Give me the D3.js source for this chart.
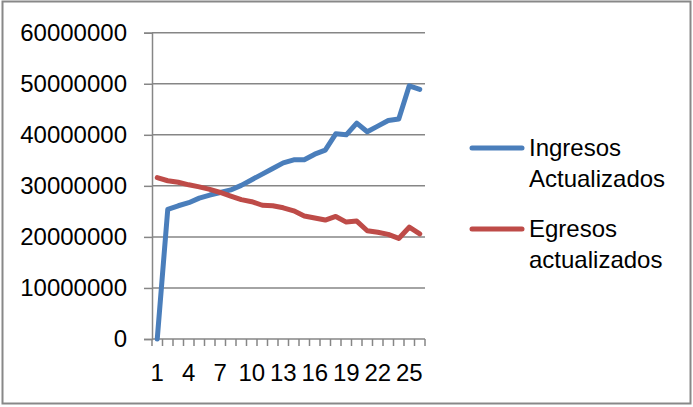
<!DOCTYPE html>
<html>
<head>
<meta charset="utf-8">
<script src="https://cdn.jsdelivr.net/npm/d3@7"></script>
<style>
  html, body { margin: 0; padding: 0; background: #fff; }
  svg { display: block; }
  text { font-family: "Liberation Sans", Arial, sans-serif; fill: #000; }
</style>
</head>
<body>
<svg id="chart" width="693" height="407"></svg>
<script>
// Periods 1..26
const periods = d3.range(1, 27);
const xTickLabels = [1, 4, 7, 10, 13, 16, 19, 22, 25];
const yTicks = [0, 10000000, 20000000, 30000000, 40000000, 50000000, 60000000];

const ingresos = [0, 25400000, 26100000, 26700000, 27600000, 28200000, 28700000, 29200000,
  30100000, 31200000, 32300000, 33400000, 34500000, 35100000, 35100000, 36200000,
  37000000, 40200000, 40000000, 42300000, 40600000, 41700000, 42800000, 43100000,
  49600000, 48900000];
const egresos = [31600000, 31000000, 30700000, 30200000, 29800000, 29300000, 28700000,
  28000000, 27300000, 26900000, 26200000, 26100000, 25700000, 25100000, 24100000,
  23700000, 23300000, 24000000, 22900000, 23100000, 21200000, 20900000, 20500000,
  19700000, 21900000, 20600000];

const seriesNames = [["Ingresos", "Actualizados"], ["Egresos", "actualizados"]];
const seriesColors = ["#4a7ebb", "#be4b48"];

const fontSize = 24;
const svg = d3.select("#chart");
const plot = { left: 152, right: 425, top: 32.7, bottom: 339 };

// Chart frame
svg.append("rect")
  .attr("x", 2.5).attr("y", 1.5).attr("width", 688).attr("height", 402)
  .attr("fill", "#fff").attr("stroke", "#888").attr("stroke-width", 2);

const x = d3.scaleBand().domain(periods).range([plot.left, plot.right]).padding(0);
const y = d3.scaleLinear().domain([0, 60000000]).range([plot.bottom, plot.top]);

// Horizontal gridlines
svg.append("g")
  .selectAll("line")
  .data(yTicks.filter(d => d > 0))
  .join("line")
  .attr("x1", plot.left).attr("x2", plot.right)
  .attr("y1", d => y(d)).attr("y2", d => y(d))
  .attr("stroke", "#868686").attr("stroke-width", 1.5);

// Y axis
const yAxis = svg.append("g")
  .attr("transform", `translate(${plot.left},0)`)
  .call(d3.axisLeft(y).tickValues(yTicks).tickSize(8).tickPadding(17).tickFormat(d3.format("d")));
yAxis.select(".domain").attr("stroke", "#868686").attr("stroke-width", 1.5);
yAxis.selectAll(".tick line").attr("stroke", "#868686").attr("stroke-width", 1.5);
yAxis.selectAll(".tick text")
  .attr("font-size", fontSize).attr("font-family", "Liberation Sans, Arial, sans-serif")
  .attr("fill", "#000");

// X axis with ticks at category boundaries
const xAxisG = svg.append("g").attr("transform", `translate(0,${plot.bottom})`);
xAxisG.append("line")
  .attr("x1", plot.left).attr("x2", plot.right)
  .attr("stroke", "#868686").attr("stroke-width", 1.5);
const boundaries = periods.map(p => x(p)).concat([x(periods[periods.length - 1]) + x.bandwidth()]);
xAxisG.selectAll("line.tk")
  .data(boundaries)
  .join("line")
  .attr("class", "tk")
  .attr("x1", d => d).attr("x2", d => d)
  .attr("y1", 0).attr("y2", 7)
  .attr("stroke", "#868686").attr("stroke-width", 1.5);
xAxisG.selectAll("text")
  .data(xTickLabels)
  .join("text")
  .attr("x", d => x(d) + x.bandwidth() / 2)
  .attr("y", 42)
  .attr("text-anchor", "middle")
  .attr("font-size", fontSize)
  .text(d => d);

// Series lines
const line = d3.line()
  .x((d, i) => x(periods[i]) + x.bandwidth() / 2)
  .y(d => y(d));

[ingresos, egresos].forEach((vals, k) => {
  svg.append("path")
    .datum(vals)
    .attr("d", line)
    .attr("fill", "none")
    .attr("stroke", seriesColors[k])
    .attr("stroke-width", 5)
    .attr("stroke-linejoin", "round")
    .attr("stroke-linecap", "round");
});

// Legend
const legendY = [148, 229];
seriesNames.forEach((lines, k) => {
  const g = svg.append("g");
  g.append("line")
    .attr("x1", 472).attr("x2", 522)
    .attr("y1", legendY[k]).attr("y2", legendY[k])
    .attr("stroke", seriesColors[k]).attr("stroke-width", 5)
    .attr("stroke-linecap", "round");
  g.selectAll("text")
    .data(lines)
    .join("text")
    .attr("x", 529)
    .attr("y", (d, i) => legendY[k] + 8 + i * 31)
    .attr("font-size", fontSize)
    .text(d => d);
});
</script>
</body>
</html>
